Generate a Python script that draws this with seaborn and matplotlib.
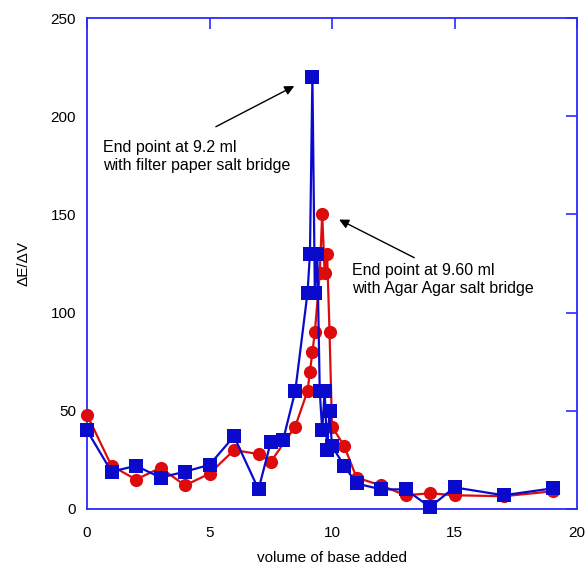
import matplotlib
matplotlib.use("Agg")
import matplotlib.pyplot as plt
import seaborn as sns
import pandas as pd

# Agar Agar salt bridge (red circles)
red_x = [0, 1, 2, 3, 4, 5, 6, 7, 7.5, 8.5, 9.0, 9.1, 9.2, 9.3, 9.5, 9.6, 9.7, 9.8, 9.9, 10.0, 10.5, 11, 12, 13, 14, 15, 17, 19]
red_y = [48, 22, 15, 21, 12, 18, 30, 28, 24, 42, 60, 70, 80, 90, 120, 150, 120, 130, 90, 42, 32, 16, 12, 7, 8, 7, 6.5, 9]

# filter paper salt bridge (blue squares)
blue_x = [0, 1, 2, 3, 4, 5, 6, 7, 7.5, 8, 8.5, 9.0, 9.1, 9.2, 9.3, 9.4, 9.5, 9.6, 9.7, 9.8, 9.9, 10.0, 10.5, 11, 12, 13, 14, 15, 17, 19]
blue_y = [40, 19, 22, 16, 19, 22.5, 37, 10, 34, 35, 60, 110, 130, 220, 110, 130, 60, 40, 60, 30, 50, 32, 22, 13, 10, 10, 1, 11, 7, 10.5]

x_ticks = [0, 5, 10, 15, 20]
y_ticks = [0, 50, 100, 150, 200, 250]

sns.set_style("white")
plt.rcParams['font.family'] = ['Liberation Sans', 'DejaVu Sans']
plt.rcParams['text.color'] = 'black'
plt.rcParams['axes.labelcolor'] = 'black'
plt.rcParams['xtick.color'] = 'black'
plt.rcParams['ytick.color'] = 'black'

fig = plt.figure(figsize=(5.88, 5.68), dpi=100)
ax = fig.add_axes([87/588, 59/568, 490/588, 491/568])

df_red = pd.DataFrame({"x": red_x, "y": red_y})
df_blue = pd.DataFrame({"x": blue_x, "y": blue_y})

RED = "#dd0b0b"
BLUE = "#0a0acc"

sns.lineplot(data=df_red, x="x", y="y", ax=ax, color=RED, lw=1.6, marker="o",
             markersize=9.5, markeredgewidth=0, estimator=None, sort=False, zorder=2,
             clip_on=False)
sns.lineplot(data=df_blue, x="x", y="y", ax=ax, color=BLUE, lw=1.6, marker="s",
             markersize=9.5, markeredgewidth=0, estimator=None, sort=False, zorder=3,
             clip_on=False)

ax.set_xlim(0, 20)
ax.set_ylim(0, 250)
ax.set_xticks(x_ticks)
ax.set_yticks(y_ticks)
ax.tick_params(direction="in", length=8, width=1.2, color="#2a2aff", labelcolor="black",
               top=True, right=True, labelsize=11)
ax.tick_params(axis="x", pad=12)
ax.tick_params(axis="y", pad=8)
for s in ax.spines.values():
    s.set_color("#2a2aff")
    s.set_linewidth(1.3)
    s.set_visible(True)
    s.set_zorder(1)

ax.set_xlabel("volume of base added", fontsize=11, labelpad=8)
ax.set_ylabel("ΔE/ΔV", fontsize=11, labelpad=14)

ax.annotate("", xy=(8.56, 216), xytext=(5.16, 194),
            arrowprops=dict(arrowstyle="-|>", color="black", lw=1.0, mutation_scale=14))
ax.text(0.67, 179.7, "End point at 9.2 ml\nwith filter paper salt bridge",
        fontsize=11.5, va="center", ha="left", linespacing=1.25, color="black")

ax.annotate("", xy=(10.19, 148), xytext=(13.46, 127.3),
            arrowprops=dict(arrowstyle="-|>", color="black", lw=1.0, mutation_scale=14))
ax.text(10.8, 116.6, "End point at 9.60 ml\nwith Agar Agar salt bridge",
        fontsize=11.5, va="center", ha="left", linespacing=1.25, color="black")

if ax.legend_:
    ax.legend_.remove()
fig.savefig("out.png", dpi=100)
